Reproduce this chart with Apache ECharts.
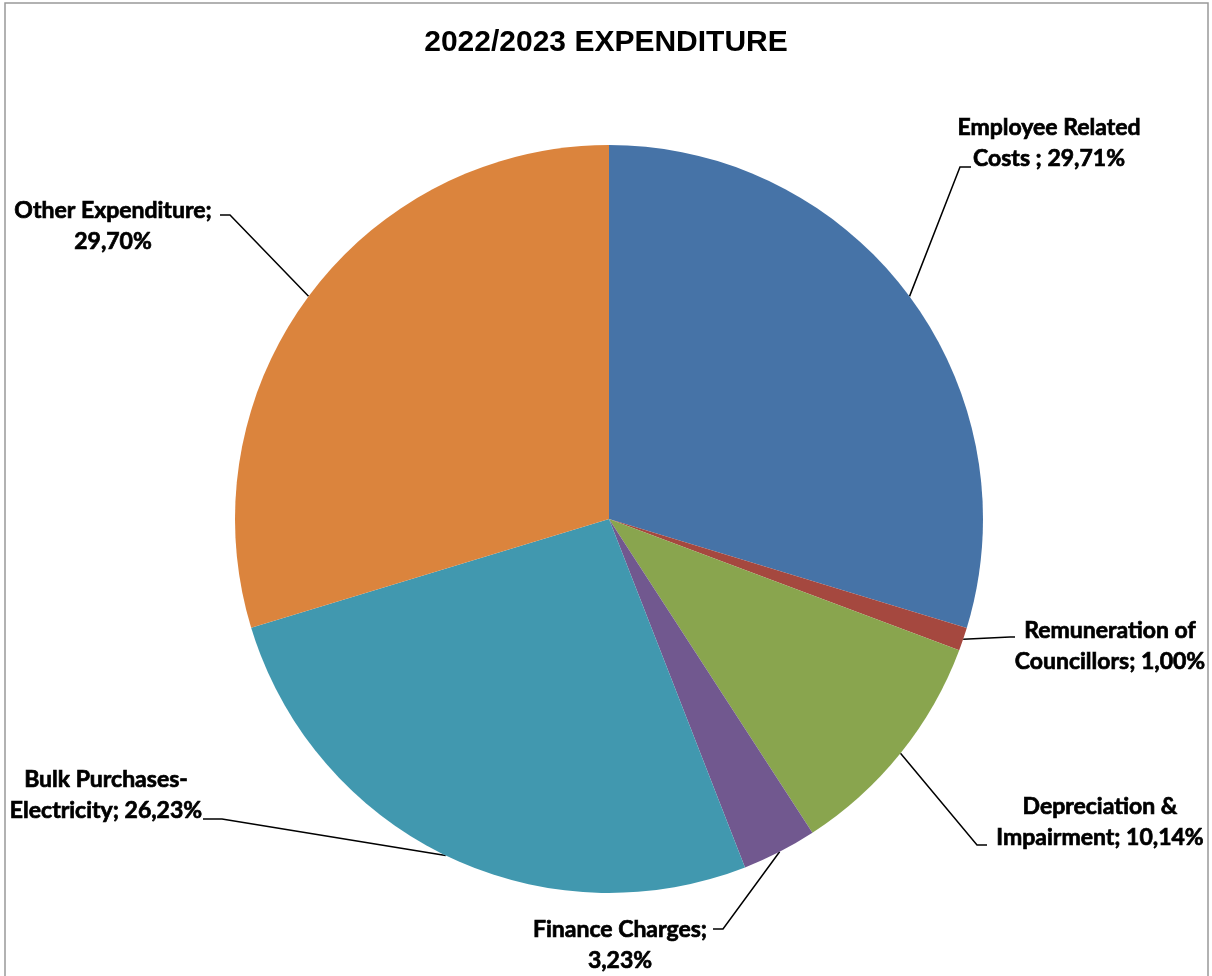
<!DOCTYPE html>
<html>
<head>
<meta charset="utf-8">
<script src="https://cdn.jsdelivr.net/npm/echarts@6/dist/echarts.min.js"></script>
<style>
html,body{margin:0;padding:0;background:#fff;}
#chart{width:1212px;height:976px;}
</style>
</head>
<body>
<div id="chart"></div>
<script>
// ---- data ----
var categories = ['Employee Related\nCosts ', 'Remuneration of\nCouncillors', 'Depreciation &\nImpairment', 'Finance Charges', 'Bulk Purchases-\nElectricity', 'Other Expenditure'];
var values = [29.71, 1.00, 10.14, 3.23, 26.23, 29.70];
var breakBeforeValue = [false, false, false, true, false, true];
var colors = ['#4673A7', '#A5483F', '#89A54E', '#71588F', '#4198AF', '#DB843D'];
var titleText = '2022/2023 EXPENDITURE';

// ---- label layout (positions only) ----
var labelPos = [
  {x: 1049, y: 143, bend: [960, 167], end: [971, 167]},
  {x: 1110, y: 646, bend: [1010, 637], end: [1015, 637]},
  {x: 1100, y: 822, bend: [977, 845], end: [987, 845]},
  {x: 620,  y: 945, bend: [723, 929], end: [713, 929]},
  {x: 106,  y: 795, bend: [222, 819], end: [203, 819]},
  {x: 113,  y: 226, bend: [230, 215], end: [220, 215]}
];

var chart = echarts.init(document.getElementById('chart'));
var seriesData = categories.map(function (c, i) {
  return {name: c, value: values[i], itemStyle: {color: colors[i]}};
});

chart.setOption({
  backgroundColor: '#ffffff',
  animation: false,
  title: {
    text: titleText,
    left: 'center',
    top: 23,
    textStyle: {fontFamily: 'Liberation Sans', fontWeight: 'bold', fontSize: 30, color: '#000'}
  },
  graphic: [{
    type: 'rect',
    shape: {x: 5, y: 3, width: 1203, height: 990},
    style: {fill: 'none', stroke: '#999999', lineWidth: 1.5},
    silent: true
  }],
  series: [{
    type: 'pie',
    center: [609, 519],
    radius: 374,
    startAngle: 90,
    clockwise: true,
    avoidLabelOverlap: false,
    data: seriesData,
    itemStyle: {borderWidth: 0},
    label: {
      show: true,
      position: 'outside',
      fontFamily: 'Lato',
      fontWeight: 'bold',
      fontSize: 23,
      lineHeight: 31,
      color: '#000',
      textBorderColor: '#000',
      textBorderWidth: 0.7,
      formatter: function (p) {
        var v = values[p.dataIndex].toFixed(2).replace('.', ',') + '%';
        return p.name + ';' + (breakBeforeValue[p.dataIndex] ? '\n' : ' ') + v;
      }
    },
    labelLine: {show: true, length: 20, length2: 10, lineStyle: {color: '#000', width: 1.5}},
    labelLayout: function (params) {
      var lp = labelPos[params.dataIndex];
      var start = params.labelLinePoints ? params.labelLinePoints[0] : lp.bend;
      return {
        x: lp.x,
        y: lp.y,
        align: 'center',
        verticalAlign: 'middle',
        labelLinePoints: [start, lp.bend, lp.end]
      };
    },
    emphasis: {disabled: true}
  }]
});
</script>
</body>
</html>
